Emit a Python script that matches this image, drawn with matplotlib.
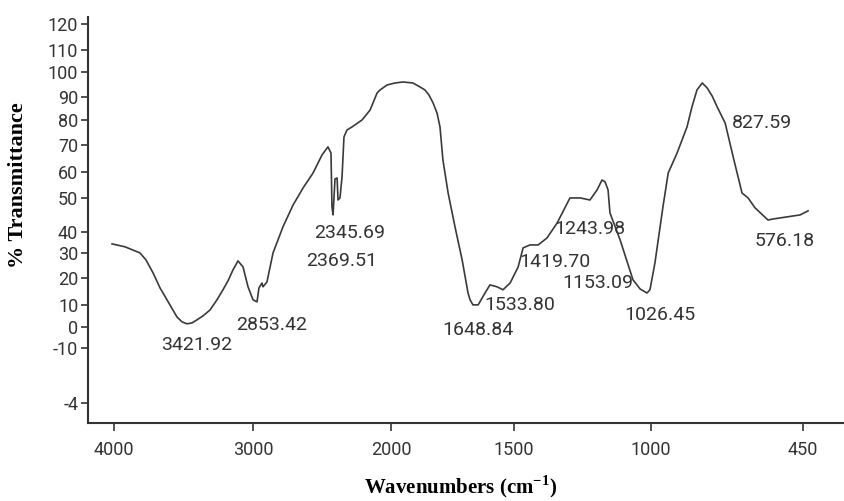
import numpy as np
import matplotlib
matplotlib.use("Agg")
import matplotlib.pyplot as plt

# ---------------- data ----------------
wavenumber = [4014, 3921, 3813, 3770, 3719, 3669, 3619, 3547, 3511, 3475,
              3439, 3403, 3360, 3309, 3259, 3216, 3180, 3144, 3108, 3072,
              3036, 3000, 2971, 2957, 2935, 2928, 2899, 2855, 2783, 2710,
              2638, 2565, 2500, 2457, 2435, 2428, 2420, 2413, 2406, 2391,
              2384, 2370, 2355, 2341, 2319, 2283, 2210, 2152, 2101, 2080,
              2029, 1984, 1951, 1911, 1882, 1862, 1846, 1829, 1813, 1801,
              1789, 1768, 1740, 1711, 1687, 1679, 1667, 1646, 1618, 1598,
              1569, 1545, 1516, 1485, 1467, 1442, 1412, 1380, 1343, 1296,
              1259, 1223, 1197, 1179, 1168, 1157, 1150, 1113, 1066, 1040,
              1015, 1004, 986, 957, 938, 906, 870, 852, 834, 815,
              797, 779, 761, 732, 703, 671, 649, 624, 577, 559,
              461, 432]
transmittance = [34.3, 32.9, 30.0, 27.2, 22.0, 16.3, 11.9, 4.5, 2.3, 1.4,
                 1.8, 3.2, 5.0, 7.7, 11.9, 15.6, 18.9, 23.2, 26.8, 24.4,
                 16.7, 11.9, 11.1, 16.3, 18.1, 16.7, 18.5, 30.0, 41.5, 47.9,
                 53.8, 59.6, 66.3, 69.3, 67.0, 47.4, 45.0, 50.4, 57.3, 57.7,
                 49.4, 50.0, 58.1, 73.2, 76.0, 77.2, 80.0, 84.3, 91.6, 92.8,
                 94.8, 95.6, 96.0, 95.6, 94.0, 92.8, 90.8, 87.4, 83.0, 77.2,
                 64.4, 51.9, 41.5, 27.2, 14.4, 11.9, 10.0, 10.0, 14.4, 17.4,
                 16.7, 15.6, 18.1, 24.4, 32.4, 33.8, 33.8, 37.1, 42.6, 50.0,
                 50.0, 49.4, 53.1, 56.9, 56.2, 53.1, 45.6, 36.2, 19.3, 15.9,
                 14.4, 15.6, 26.0, 47.4, 59.6, 67.0, 77.2, 85.7, 92.8, 95.6,
                 93.6, 90.4, 85.7, 78.8, 65.6, 51.9, 50.0, 47.1, 43.5, 43.8,
                 45.0, 46.2]

peak_labels = ["3421.92", "2853.42", "2345.69", "2369.51", "1648.84", "1533.80",
               "1419.70", "1243.98", "1153.09", "1026.45", "827.59", "576.18"]
peak_label_x = [3403, 2862, 2297, 2355, 1646, 1478, 1350, 1223, 1193, 967, 598, 515]
peak_label_y = [-8.6, 0.9, 39.5, 26.8, -1.4, 10.0, 26.4, 40.9, 18.1, 5.5, 78.8, 35.7]

x_ticks = [4000, 3000, 2000, 1500, 1000, 450]
x_tick_labels = ["4000", "3000", "2000", "1500", "1000", "450"]
y_ticks = [120, 110, 100, 90, 80, 70, 60, 50, 40, 30, 20, 10, 0, -10, -40]
y_tick_labels = ["120", "110", "100", "90", "80", "70", "60", "50", "40",
                 "30", "20", "10", "0", "-10", "-4"]

# ---------------- non-uniform (chart-paper) axis scales ----------------
X_POS = [114, 253, 391, 514, 651, 803]
Y_POS = [24, 50, 72, 97, 120, 145, 172, 198, 232, 253, 278, 305, 327, 348, 403]


def piecewise(v, xp, fp):
    v = np.asarray(v, dtype=float)
    xp = np.asarray(xp, dtype=float)
    fp = np.asarray(fp, dtype=float)
    out = np.interp(v, xp, fp)
    lo_slope = (fp[1] - fp[0]) / (xp[1] - xp[0])
    hi_slope = (fp[-1] - fp[-2]) / (xp[-1] - xp[-2])
    out = np.where(v < xp[0], fp[0] + (v - xp[0]) * lo_slope, out)
    out = np.where(v > xp[-1], fp[-1] + (v - xp[-1]) * hi_slope, out)
    return out


xk = -np.asarray(x_ticks, float)
xp_ = np.asarray(X_POS, float)


def x_fwd(w):
    return piecewise(-np.asarray(w, float), xk, xp_)


def x_inv(p):
    return -piecewise(p, xp_, xk)


order = np.argsort(y_ticks)
yk = np.asarray(y_ticks, float)[order]
yp_ = -np.asarray(Y_POS, float)[order]


def y_fwd(v):
    return piecewise(v, yk, yp_)


def y_inv(p):
    return piecewise(p, yp_, yk)


# ---------------- figure ----------------
W, H = 844, 501
fig = plt.figure(figsize=(W / 100, H / 100), dpi=100)
fig.patch.set_facecolor("white")
ax = fig.add_axes([88 / W, (H - 423) / H, (W - 88) / W, (423 - 17) / H])
ax.set_xscale("function", functions=(x_fwd, x_inv))
ax.set_yscale("function", functions=(y_fwd, y_inv))
ax.set_xlim(302, 4187)
ax.set_ylim(-51, 122.7)

ink = "#333333"
ax.plot(wavenumber, transmittance, color="#3a3a3a", lw=1.2,
        solid_joinstyle="round")

tick_font = dict(family=["Roboto", "DejaVu Sans"], size=13)
ax.set_xticks(x_ticks)
ax.set_xticklabels(x_tick_labels, fontdict=tick_font, color=ink)
ax.set_yticks(y_ticks)
ax.set_yticklabels(y_tick_labels, fontdict=tick_font, color=ink)
ax.minorticks_off()
ax.tick_params(axis="x", direction="out", length=6, width=1.2, colors=ink, pad=7)
ax.tick_params(axis="y", direction="out", length=5, width=1.2, colors=ink, pad=2)

for s in ["top", "right"]:
    ax.spines[s].set_visible(False)
for s in ["left", "bottom"]:
    ax.spines[s].set_color(ink)
    ax.spines[s].set_linewidth(1.5)

for lab, lx, ly in zip(peak_labels, peak_label_x, peak_label_y):
    ax.text(lx, ly, lab, ha="center", va="center", color=ink,
            family=["Roboto", "DejaVu Sans"], fontsize=14)

plt.rcParams["mathtext.fontset"] = "custom"
plt.rcParams["mathtext.rm"] = "Liberation Serif"
plt.rcParams["mathtext.bf"] = "Liberation Serif:bold"

fig.text(18 / W, 1 - 185 / H, "% Transmittance", rotation=90, ha="center",
         va="center", fontsize=16, fontweight="bold",
         family=["Liberation Serif", "DejaVu Serif"], color="black")
fig.text(461 / W, 1 - 487 / H, r"Wavenumbers (cm$^{\mathbf{-1}}$)", ha="center",
         va="center", fontsize=15, fontweight="bold",
         family=["Liberation Serif", "DejaVu Serif"], color="black")

fig.savefig("out.png", dpi=100, facecolor="white")
